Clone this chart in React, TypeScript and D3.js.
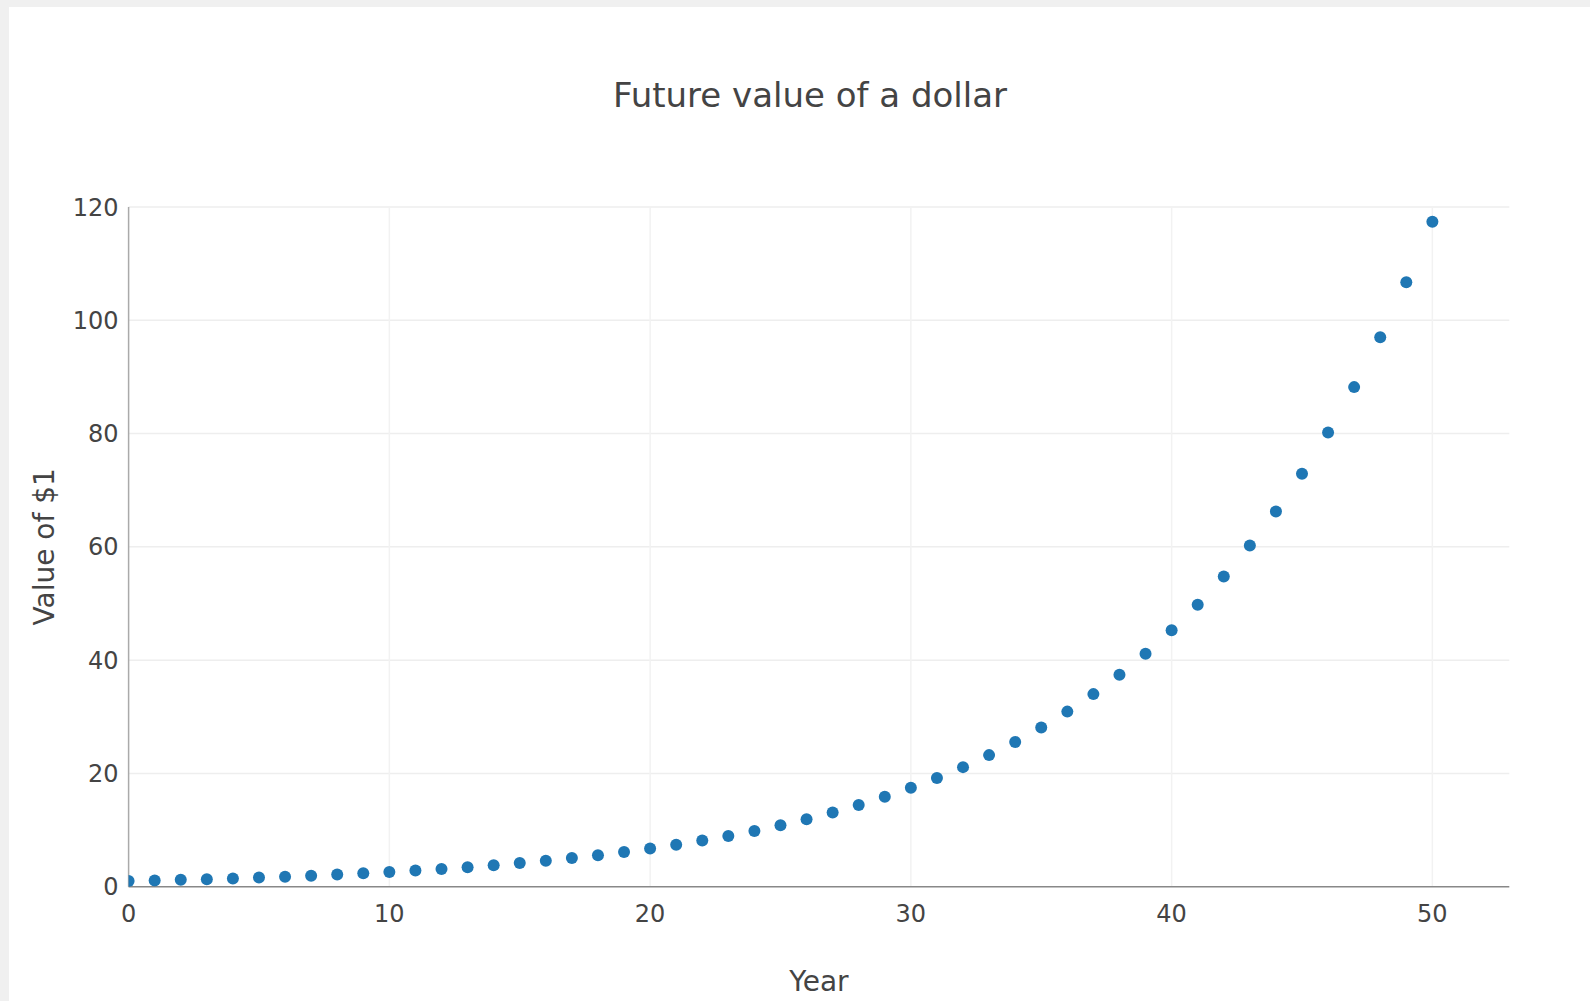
import React from "react";
import * as d3 from "d3";

const years: number[] = [
  0, 1, 2, 3, 4, 5, 6, 7, 8, 9, 10, 11, 12, 13, 14, 15, 16, 17, 18, 19, 20,
  21, 22, 23, 24, 25, 26, 27, 28, 29, 30, 31, 32, 33, 34, 35, 36, 37, 38, 39,
  40, 41, 42, 43, 44, 45, 46, 47, 48, 49, 50,
];
const values: number[] = [
  1.0, 1.1, 1.21, 1.33, 1.46, 1.61, 1.77, 1.95, 2.14, 2.36, 2.59, 2.85, 3.14,
  3.45, 3.8, 4.18, 4.59, 5.05, 5.56, 6.12, 6.73, 7.4, 8.14, 8.95, 9.85, 10.83,
  11.92, 13.11, 14.42, 15.86, 17.45, 19.19, 21.11, 23.23, 25.55, 28.1, 30.91,
  34.0, 37.4, 41.14, 45.26, 49.79, 54.76, 60.24, 66.26, 72.89, 80.18, 88.2,
  97.02, 106.72, 117.39,
];
const xTicks: number[] = [0, 10, 20, 30, 40, 50];
const yTicks: number[] = [0, 20, 40, 60, 80, 100, 120];
const title = "Future value of a dollar";
const xTitle = "Year";
const yTitle = "Value of $1";

const W = 1590;
const H = 1001;
const left = 128.6;
const right = 1509.3;
const top = 207;
const bottom = 886.7;
const font = "'DejaVu Sans', Verdana, sans-serif";

export default function App() {
  const x = d3.scaleLinear().domain([0, 52.95]).range([left, right]);
  const y = d3.scaleLinear().domain([0, 120]).range([bottom, top]);
  return (
    <svg
      width={W}
      height={H}
      style={{ position: "absolute", left: 0, top: 0, display: "block" }}
      fontFamily={font}
    >
      <rect x={0} y={0} width={W} height={H} fill="#f0f0f0" />
      <rect x={9} y={7} width={W - 9} height={H - 7} fill="#ffffff" />
      <defs>
        <clipPath id="plotclip">
          <rect x={left} y={top} width={right - left} height={bottom - top} />
        </clipPath>
      </defs>
      {yTicks
        .filter((t) => t !== 0)
        .map((t) => (
          <line
            key={"gy" + t}
            x1={left}
            x2={right}
            y1={y(t)}
            y2={y(t)}
            stroke="#eeeeee"
            strokeWidth={1.5}
          />
        ))}
      {xTicks
        .filter((t) => t !== 0)
        .map((t) => (
          <line
            key={"gx" + t}
            x1={x(t)}
            x2={x(t)}
            y1={top}
            y2={bottom}
            stroke="#f2f2f2"
            strokeWidth={1.5}
          />
        ))}
      <line x1={x(0)} x2={x(0)} y1={top} y2={bottom} stroke="#aaaaaa" strokeWidth={1.5} />
      <line x1={left} x2={right} y1={bottom} y2={bottom} stroke="#888888" strokeWidth={1.5} />
      <g clipPath="url(#plotclip)">
        {years.map((yr, i) => (
          <circle key={yr} cx={x(yr)} cy={y(values[i])} r={6} fill="#1f77b4" />
        ))}
      </g>
      {xTicks.map((t) => (
        <text
          key={"tx" + t}
          x={x(t)}
          y={921.5}
          textAnchor="middle"
          fontSize={24}
          fill="#444444"
        >
          {t}
        </text>
      ))}
      {yTicks.map((t) => (
        <text
          key={"ty" + t}
          x={118.5}
          y={y(t)}
          dy="0.36em"
          textAnchor="end"
          fontSize={24}
          fill="#444444"
        >
          {t}
        </text>
      ))}
      <text
        x={810}
        y={106.5}
        textAnchor="middle"
        fontSize={34}
        fill="#444444"
      >
        {title}
      </text>
      <text
        x={(left + right) / 2}
        y={991}
        textAnchor="middle"
        fontSize={28}
        fill="#444444"
      >
        {xTitle}
      </text>
      <text
        transform={`translate(54, ${(top + bottom) / 2}) rotate(-90)`}
        textAnchor="middle"
        fontSize={28}
        fill="#444444"
      >
        {yTitle}
      </text>
    </svg>
  );
}
